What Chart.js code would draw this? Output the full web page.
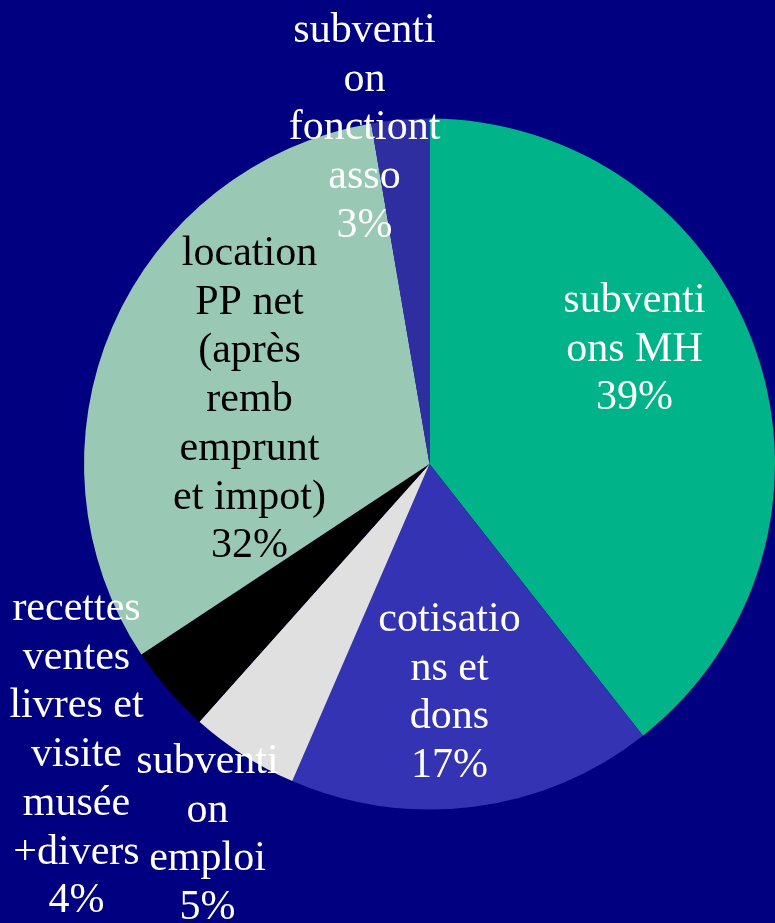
<!DOCTYPE html>
<html>
<head>
<meta charset="utf-8">
<script src="https://cdn.jsdelivr.net/npm/chart.js@4/dist/chart.umd.min.js"></script>
<style>
  html, body { margin: 0; padding: 0; background: #000080; }
  #wrap { width: 775px; height: 923px; }
</style>
</head>
<body>
<div id="wrap"><canvas id="pie"></canvas></div>
<script>
// slices, clockwise from 12 o'clock
const categories = [
  'subventions MH',
  'cotisations et dons',
  'subvention emploi',
  'recettes ventes livres et visite musée +divers',
  'location PP net (après remb emprunt et impot)',
  'subvention fonctiont asso'
];
// labels show them rounded
const shares = [39.4, 17.1, 5.1, 4.1, 31.6, 2.7];
const labelLines = [
  ['subventi', 'ons MH'],
  ['cotisatio', 'ns et', 'dons'],
  ['subventi', 'on', 'emploi'],
  ['recettes', 'ventes', 'livres et', 'visite', 'musée', '+divers'],
  ['location', 'PP net', '(après', 'remb', 'emprunt', 'et impot)'],
  ['subventi', 'on', 'fonctiont', 'asso']
];
const sliceColors = ['#00B388', '#3333B3', '#E0E0E0', '#000000', '#99C8B4', '#2E2EA0'];

// where each label block sits (x centre, first baseline), px from pie centre
const labelPos = [
  [205, -152, '#ffffff'],
  [20, 167, '#ffffff'],
  [-222, 309, '#ffffff'],
  [-353, 156, '#ffffff'],
  [-180, -199, '#000000'],
  [-65, -422, '#ffffff']
];

const pieLabels = {
  id: 'pieLabels',
  afterDatasetsDraw(chart) {
    const ctx = chart.ctx;
    const arc = chart.getDatasetMeta(0).data[0];
    ctx.save();
    ctx.font = '42px "Liberation Serif", "Times New Roman", serif';
    ctx.textAlign = 'center';
    ctx.textBaseline = 'alphabetic';
    labelLines.forEach((lines, i) => {
      const [dx, dy, color] = labelPos[i];
      const all = lines.concat([Math.round(shares[i]) + '%']);
      ctx.fillStyle = color;
      all.forEach((t, j) => {
        ctx.fillText(t, arc.x + dx, arc.y + dy + j * 48.7);
      });
    });
    ctx.restore();
  }
};

new Chart(document.getElementById('pie'), {
  type: 'pie',
  data: {
    labels: categories,
    datasets: [{
      data: shares,
      backgroundColor: sliceColors,
      borderWidth: 0
    }]
  },
  options: {
    responsive: true,
    maintainAspectRatio: false,
    animation: false,
    layout: { padding: { left: 84, right: 0, top: 118, bottom: 113 } },
    plugins: {
      legend: { display: false },
      tooltip: { enabled: false }
    }
  },
  plugins: [pieLabels]
});
</script>
</body>
</html>
